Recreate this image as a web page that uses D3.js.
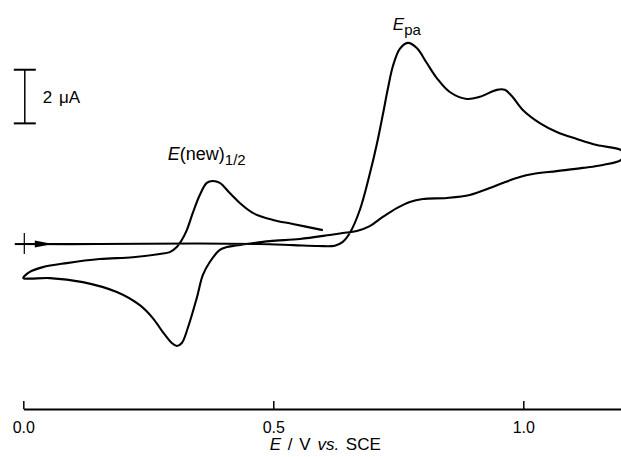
<!DOCTYPE html>
<html>
<head>
<meta charset="utf-8">
<script src="https://cdn.jsdelivr.net/npm/d3@7"></script>
<style>
  body { margin: 0; background: #fff; }
  svg { display: block; font-family: "Liberation Sans", Arial, sans-serif; }
</style>
</head>
<body>
<svg width="621" height="457"></svg>
<script>
// potentials in V vs. SCE, currents in microamps
// first anodic sweep, 0 -> 1.2 V
var sweep1E = [0.00, 0.15, 0.35, 0.47, 0.54, 0.59, 0.623, 0.639, 0.653, 0.673, 0.693, 0.707, 0.719, 0.729,
               0.739, 0.753, 0.769, 0.787, 0.807, 0.827, 0.853, 0.887, 0.913, 0.947, 0.963, 0.977, 0.999,
               1.033, 1.067, 1.107, 1.147, 1.195, 1.20];
var sweep1I = [0.00, 0.00, 0.02, 0.00, -0.04, -0.07, -0.06, 0.08, 0.41, 1.27, 2.62, 3.72, 4.82, 5.78,
               6.62, 7.28, 7.50, 7.31, 6.75, 6.19, 5.67, 5.41, 5.49, 5.75, 5.75, 5.52, 5.00,
               4.51, 4.18, 3.92, 3.69, 3.51, 3.35];
// reverse sweep, 1.2 -> 0 V
var sweep2E = [1.195, 1.159, 1.119, 1.067, 1.019, 0.993, 0.959, 0.933, 0.893, 0.847, 0.799, 0.773, 0.747,
               0.719, 0.693, 0.667, 0.639, 0.613, 0.553, 0.493, 0.447, 0.407, 0.393, 0.373, 0.359, 0.347,
               0.329, 0.317, 0.307, 0.297, 0.279, 0.259, 0.233, 0.187, 0.119, 0.053, 0.013, 0.00];
var sweep2I = [3.13, 2.95, 2.84, 2.72, 2.61, 2.50, 2.28, 2.09, 1.83, 1.72, 1.68, 1.57, 1.34,
               1.01, 0.67, 0.49, 0.41, 0.34, 0.19, 0.11, 0.00, -0.11, -0.22, -0.67, -1.16, -2.01,
               -3.13, -3.69, -3.80, -3.69, -3.28, -2.76, -2.28, -1.79, -1.42, -1.27, -1.29, -1.27];
// second anodic sweep, 0 -> 0.6 V
var sweep3E = [0.013, 0.039, 0.087, 0.153, 0.219, 0.273, 0.293, 0.307, 0.317, 0.327, 0.339, 0.353, 0.367,
               0.379, 0.393, 0.413, 0.433, 0.459, 0.499, 0.539, 0.599];
var sweep3I = [-1.04, -0.86, -0.71, -0.56, -0.49, -0.37, -0.30, -0.11, 0.15, 0.52, 1.16, 1.83, 2.28,
               2.35, 2.28, 1.90, 1.53, 1.16, 0.90, 0.75, 0.52];
var xTicks = [0, 0.5, 1.0];
var scaleBarI = [4.5, 6.5];   // 2 uA bar

var svg = d3.select("svg"),
    width = +svg.attr("width"),
    height = +svg.attr("height");

var x = d3.scaleLinear().domain([0, 1.2]).range([23.3, 623.3]);
var y = d3.scaleLinear().domain([-6.15, 9.1]).range([409, 0]);

var pts = [];
sweep1E.forEach((e, i) => pts.push([e, sweep1I[i]]));
sweep2E.forEach((e, i) => pts.push([e, sweep2I[i]]));
sweep3E.forEach((e, i) => pts.push([e, sweep3I[i]]));

var line = d3.line()
    .x(d => x(d[0]))
    .y(d => y(d[1]))
    .curve(d3.curveCatmullRom.alpha(0.5));

svg.append("path")
    .datum(pts)
    .attr("d", line)
    .attr("fill", "none")
    .attr("stroke", "#000")
    .attr("stroke-width", 2.1)
    .attr("stroke-linejoin", "round");

// start marker and sweep direction arrow
svg.append("line")
    .attr("x1", x(-0.017)).attr("x2", x(0.03))
    .attr("y1", y(0)).attr("y2", y(0))
    .attr("stroke", "#000").attr("stroke-width", 2);
svg.append("line")
    .attr("x1", x(0.002)).attr("x2", x(0.002))
    .attr("y1", y(0.41)).attr("y2", y(-0.37))
    .attr("stroke", "#000").attr("stroke-width", 1.2);
svg.append("path")
    .attr("d", "M" + x(0.023) + "," + y(0.13) + "L" + x(0.059) + "," + y(0) + "L" + x(0.023) + "," + y(-0.13) + "Z")
    .attr("fill", "#000");

// current scale bar
var barE = 0.003;
var bar = svg.append("g").attr("stroke", "#000").attr("stroke-width", 1.5);
bar.append("line")
    .attr("x1", x(barE)).attr("x2", x(barE))
    .attr("y1", y(scaleBarI[0])).attr("y2", y(scaleBarI[1]));
scaleBarI.forEach(v => {
  bar.append("line")
      .attr("x1", x(barE - 0.022)).attr("x2", x(barE + 0.022))
      .attr("y1", y(v)).attr("y2", y(v))
      .attr("stroke-width", 2);
});
svg.append("text")
    .attr("x", x(0.039)).attr("y", y(5.25))
    .attr("font-size", 17)
    .attr("word-spacing", 2)
    .text("2 \u03bcA");

// peak labels
var lab1 = svg.append("text")
    .attr("x", x(0.289)).attr("y", y(3.13))
    .attr("font-size", 18);
lab1.append("tspan").attr("font-style", "italic").text("E");
lab1.append("tspan").text("(new)");
lab1.append("tspan").attr("font-size", 15).attr("dy", 5).text("1/2");

var lab2 = svg.append("text")
    .attr("x", x(0.739)).attr("y", y(7.98))
    .attr("font-size", 17);
lab2.append("tspan").attr("font-style", "italic").text("E");
lab2.append("tspan").attr("font-size", 15).attr("dy", 5).text("pa");

// x axis
var xAxis = d3.axisBottom(x)
    .tickValues(xTicks)
    .tickFormat(d3.format(".1f"))
    .tickSizeInner(-8)
    .tickSizeOuter(0)
    .tickPadding(13);

var gx = svg.append("g")
    .attr("transform", "translate(0," + 409 + ")")
    .call(xAxis);
gx.select(".domain").attr("stroke-width", 2);
gx.selectAll(".tick line").attr("stroke-width", 1.5);
gx.selectAll(".tick text").attr("font-size", 16).attr("font-family", null);

var title = svg.append("text")
    .attr("x", (x.range()[0] + x.range()[1]) / 2 + 2)
    .attr("y", 450)
    .attr("text-anchor", "middle")
    .attr("font-size", 17)
    .attr("word-spacing", 2);
title.append("tspan").attr("font-style", "italic").text("E");
title.append("tspan").text(" / V ");
title.append("tspan").attr("font-style", "italic").text("vs.");
title.append("tspan").text(" SCE");
</script>
</body>
</html>
